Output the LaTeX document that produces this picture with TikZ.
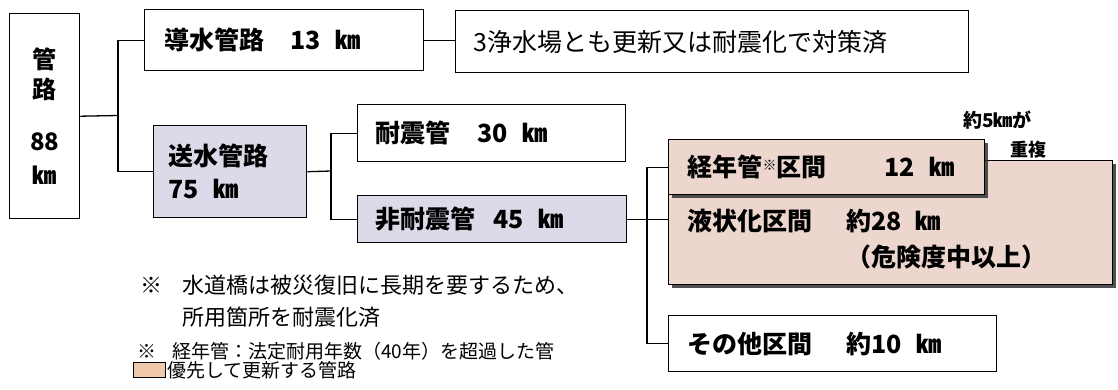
\documentclass[tikz,border=0pt]{standalone}
\usepackage{fontspec}
\newfontfamily\jp{Noto Sans CJK JP}
\usetikzlibrary{shadows}
\definecolor{lav}{RGB}{218,218,232}
\definecolor{pinkb}{RGB}{236,214,205}
\definecolor{peach}{RGB}{240,200,170}
\tikzset{
  bx/.style={draw, line width=1.4pt, anchor=north west, inner ysep=0pt, align=left,
    font=\jp\bfseries\fontsize{25}{30}\selectfont},
  conn/.style={line width=1.3pt},
  shad/.style={drop shadow={shadow xshift=3pt, shadow yshift=-3pt, fill=black!80, opacity=0.85}},
  txt/.style={anchor=west, inner sep=0pt},
  bigtxt/.style={txt, font=\jp\bfseries\fontsize{25}{30}\selectfont},
  note/.style={txt, font=\jp\fontsize{22}{26}\selectfont},
  notesm/.style={txt, font=\jp\fontsize{19}{22}\selectfont},
}
\begin{document}
\begin{tikzpicture}[x=1pt,y=-1pt]
\useasboundingbox (0,0) rectangle (1118,389);

% boxes
\node[bx, minimum height=205, text width=64, inner xsep=3, align=center,
  font=\jp\bfseries\fontsize{24}{30}\selectfont] (kanro) at (9,13) {管\\路\\[22pt]88\\[4pt]㎞};
\node[bx, minimum height=61, text width=239, inner xsep=20] (dousui) at (144,9)
  {導水管路\hspace{26pt}13\hspace{14pt}㎞};
\node[bx, minimum height=62, text width=477, inner xsep=18,
  font=\jp\fontsize{25}{30}\selectfont] (josui) at (455,10)
  {3浄水場とも更新又は耐震化で対策済};
\node[bx, fill=lav, minimum height=92, text width=123, inner xsep=15,
  font=\jp\bfseries\fontsize{25}{33}\selectfont] (sousui) at (153,125)
  {送水管路\\75\hspace{14pt}㎞};
\node[bx, minimum height=57, text width=232, inner xsep=18] (taishin) at (357,104)
  {耐震管\hspace{27pt}30\hspace{14pt}㎞};
\node[bx, fill=lav, minimum height=47, text width=233, inner xsep=18] (hitaishin) at (357,195)
  {非耐震管\hspace{18pt}45\hspace{14pt}㎞};

\node[bx, fill=pinkb, shad, minimum height=124, minimum width=444] (big) at (668,160) {};
\node[bx, fill=pinkb, shad, minimum height=55, text width=278, inner xsep=19] (keinen) at (668,139)
  {\mbox{経年管\raisebox{6pt}{\fontsize{14}{14}\selectfont ※}区間\hspace{58pt}12\hspace{14pt}㎞}};
\node[bigtxt] (liq1) at (687,221) {液状化区間\hspace{34pt}約28\hspace{14pt}㎞};
\node[bigtxt] (liq2) at (846,257) {（危険度中以上）};
\node[bx, minimum height=56, text width=290, inner xsep=19] (sonota) at (668,315)
  {その他区間\hspace{34pt}約10\hspace{14pt}㎞};

\node[txt, font=\jp\bfseries\fontsize{19}{22}\selectfont] (dup1) at (963,120) {約5㎞が};
\node[txt, font=\jp\bfseries\fontsize{18}{22}\selectfont] (dup2) at (1010,150) {重複};

% notes
\node[note] (n1m) at (140,285) {※};
\node[note] (n1) at (182,285) {水道橋は被災復旧に長期を要するため、};
\node[note] (n2) at (182,317) {所用箇所を耐震化済};
\node[notesm] (n3m) at (137,351) {※};
\node[notesm] (n3) at (172,351) {経年管：法定耐用年数（40年）を超過した管};
\node[draw, line width=1.3pt, fill=peach, anchor=north west, minimum width=32, minimum height=15, inner sep=0pt] (leg) at (133,362) {};
\node[notesm] (legt) at (167,370) {優先して更新する管路};

% connectors
\coordinate (j1) at (118,115.5);
\coordinate (j2) at (331,171);
\coordinate (j3) at (647,218.5);
\draw[conn] (kanro.east) -- (j1);
\draw[conn] (dousui.west) -| (j1) |- (sousui.west);
\draw[conn] (dousui.east) -- (dousui.east -| josui.west);
\draw[conn] (sousui.east) -- (j2);
\draw[conn] (taishin.west) -| (j2) |- (hitaishin.west);
\draw[conn] (hitaishin.east) -- (hitaishin.east -| big.west);
\draw[conn] (keinen.west) -| (j3) |- (sonota.west);
\end{tikzpicture}
\end{document}
